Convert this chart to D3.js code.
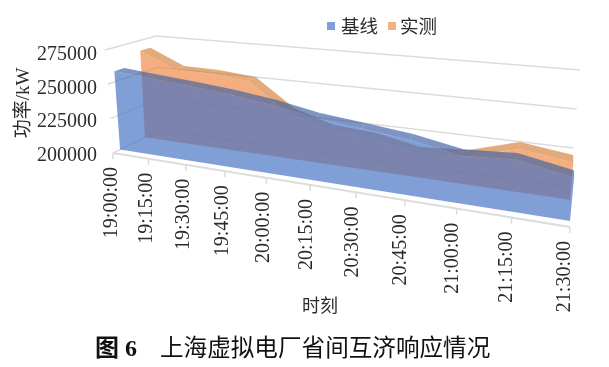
<!DOCTYPE html>
<html>
<head>
<meta charset="utf-8">
<script src="https://cdn.jsdelivr.net/npm/d3@7"></script>
<style>
  html, body { margin: 0; background: #fff; }
  svg { display: block; filter: blur(0.35px); }
  text { fill: #2b2b2b; font-family: "Liberation Serif", "Noto Sans CJK SC", serif; }
</style>
</head>
<body>
<svg id="chart" width="609" height="367"></svg>
<script>
const times = ['19:00:00', '19:15:00', '19:30:00', '19:45:00', '20:00:00', '20:15:00',
  '20:30:00', '20:45:00', '21:00:00', '21:15:00', '21:30:00']
const valueTicks = [200000, 225000, 250000, 275000]
const baseline = [257800, 255600, 253500, 251000, 247300, 242000, 239000, 235800, 230200, 232200, 226300]
const actual = [267000, 255300, 254900, 252400, 232600, 223700, 221800, 216000, 218200, 227600, 223400]

const svg = d3.select('#chart')

// corners of the 3D box on the page: floor and the 275000 level, front and back
const floorFront = [[113, 153], [570, 227]]
const floorBack = [[160, 130], [570, 187]]
const topFront = [[105, 50], [582, 102]]
const topBack = [[156, 36], [580, 70]]

const mix = (a, b, t) => [a[0] + (b[0] - a[0]) * t, a[1] + (b[1] - a[1]) * t]

// time axis gets closer to the viewer on the right
const tScale = d3.scaleLinear().domain([0, times.length - 1]).range([0, 1])
const persp = 0.758
const along = (i) => {
  const t = tScale(i)
  return t * persp / (t * persp + 1 - t)
}
const level = d3.scaleLinear().domain([200000, 275000]).range([0, 1])

function project(i, value, z) {
  const u = along(i)
  const floor = mix(mix(floorFront[0], floorFront[1], u), mix(floorBack[0], floorBack[1], u), z)
  const top = mix(mix(topFront[0], topFront[1], u), mix(topBack[0], topBack[1], u), z)
  return mix(floor, top, level(value))
}

const line = d3.line()
const gridColor = '#dcdcdc'

// walls
valueTicks.forEach((v) => {
  svg.append('path')
    .attr('d', line([project(0, v, 0), project(0, v, 1), project(10, v, 1)]))
    .attr('fill', 'none')
    .attr('stroke', gridColor)
    .attr('stroke-width', 1.5)
})

// floor front edge and ticks
svg.append('path')
  .attr('d', line([project(0, 200000, 0), project(10, 200000, 0)]))
  .attr('fill', 'none')
  .attr('stroke', gridColor)
  .attr('stroke-width', 2)

times.forEach((d, i) => {
  const p = project(i, 200000, 0)
  svg.append('line')
    .attr('x1', p[0]).attr('x2', p[0])
    .attr('y1', p[1]).attr('y2', p[1] + 6)
    .attr('stroke', gridColor)
    .attr('stroke-width', 1.5)
  svg.append('text')
    .attr('transform', `translate(${p[0] - 3 - 4 * along(i)},${p[1] + 14}) rotate(-90)`)
    .attr('text-anchor', 'end')
    .attr('dominant-baseline', 'central')
    .attr('font-size', 20)
    .text(d)
})

function area3d(values, z0, z1, fill, alpha, ribbon) {
  const idx = d3.range(values.length)
  const front = idx.map((i) => project(i, values[i], z0))
  const back = idx.map((i) => project(i, values[i], z1))
  const bottom = [project(10, 200000, z0), project(0, 200000, z0)]

  idx.slice(1).forEach((i) => {
    svg.append('path')
      .attr('d', line([front[i - 1], back[i - 1], back[i], front[i]]) + 'Z')
      .attr('fill', ribbon)
      .attr('fill-opacity', alpha)
  })

  svg.append('path')
    .attr('d', line(front.concat(bottom)) + 'Z')
    .attr('fill', fill)
    .attr('fill-opacity', alpha)
}

area3d(actual, 0.68, 0.88, '#ed7d31', 0.62, '#d2772a')
area3d(baseline, 0.15, 0.35, '#4472c4', 0.68, '#4163a6')

// value labels
const valueY = d3.scaleLinear().domain([200000, 275000]).range([154, 53])
valueTicks.forEach((v) => {
  svg.append('text')
    .attr('x', 97)
    .attr('y', valueY(v))
    .attr('text-anchor', 'end')
    .attr('dominant-baseline', 'central')
    .attr('font-size', 20)
    .text(v)
})

svg.append('text')
  .attr('transform', 'translate(22,103) rotate(-90)')
  .attr('text-anchor', 'middle')
  .attr('dominant-baseline', 'central')
  .attr('font-size', 19)
  .text('功率/kW')

svg.append('text')
  .attr('x', 320).attr('y', 306)
  .attr('text-anchor', 'middle')
  .attr('dominant-baseline', 'central')
  .attr('font-size', 18)
  .text('时刻')

// legend
const legend = [['基线', '#7f9fdc', 327, 341], ['实测', '#f6b183', 388, 400]]
legend.forEach((d) => {
  svg.append('rect')
    .attr('x', d[2]).attr('y', 22)
    .attr('width', 8).attr('height', 8)
    .attr('fill', d[1])
  svg.append('text')
    .attr('x', d[3]).attr('y', 27)
    .attr('dominant-baseline', 'central')
    .attr('font-size', 18.5)
    .text(d[0])
})

// caption
svg.append('text')
  .attr('x', 95).attr('y', 348)
  .attr('dominant-baseline', 'central')
  .attr('font-size', 24)
  .attr('font-weight', 'bold')
  .style('fill', '#111')
  .text('图 6')
svg.append('text')
  .attr('x', 160).attr('y', 348)
  .attr('dominant-baseline', 'central')
  .attr('font-size', 23.6)
  .style('fill', '#111')
  .text('上海虚拟电厂省间互济响应情况')
</script>
</body>
</html>
